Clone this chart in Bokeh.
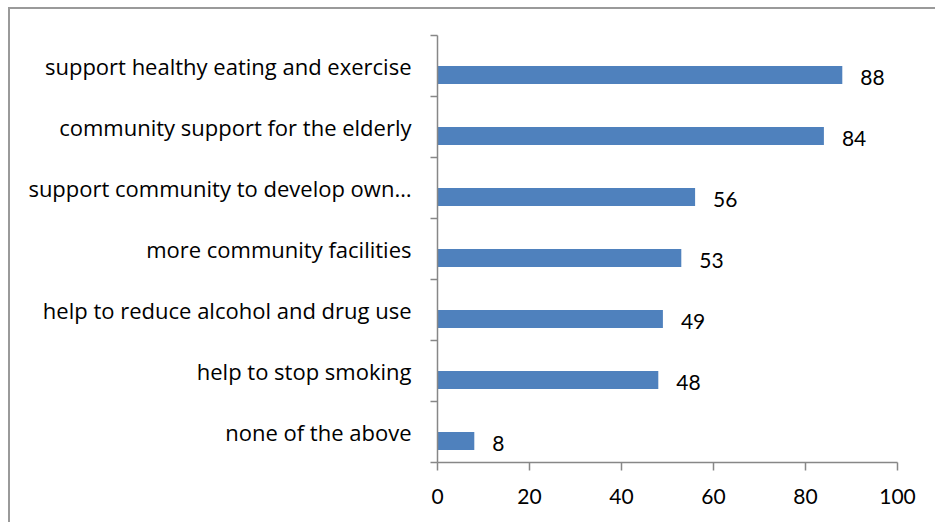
from bokeh.plotting import figure
from bokeh.models import FixedTicker, Range1d, ColumnDataSource
from bokeh.core.properties import value
from bokeh.embed import file_html
from bokeh.resources import INLINE

categories = [
    "support healthy eating and exercise",
    "community support for the elderly",
    "support community to develop own\u2026",
    "more community facilities",
    "help to reduce alcohol and drug use",
    "help to stop smoking",
    "none of the above",
]
values = [88, 84, 56, 53, 49, 48, 8]
x_ticks = [0, 20, 40, 60, 80, 100]

FONT = "Lato"
CAT_FONT = "Open Sans"
BAR_COLOR = "#4F81BD"
AXIS_COLOR = "#878787"

n = len(categories)
# index 0 at top -> highest y
centers = [n - 1 - i + 0.5 for i in range(n)]
bar_h = 0.295
bar_y = [c - bar_h / 2 for c in centers]

src = ColumnDataSource(dict(
    y=bar_y, v=values, lbl=[str(v) for v in values],
))

W, H = 927, 515
p = figure(width=W, height=H, output_backend="svg", toolbar_location=None,
           x_range=Range1d(0, 100), y_range=Range1d(0, n),
           min_border_left=427, min_border_right=40,
           min_border_top=26, min_border_bottom=62)
p.styles = {"margin-left": "8px", "margin-top": "7px",
            "border-top": "2px solid #9a9a9a", "border-left": "2px solid #9a9a9a"}
p.outline_line_color = None
p.xgrid.grid_line_color = None
p.ygrid.grid_line_color = None
p.background_fill_color = "white"
p.border_fill_color = "white"

p.hbar(y="y", right="v", left=0, height=bar_h, source=src,
       fill_color=BAR_COLOR, line_color=None)
p.text(x="v", y="y", text="lbl", source=src, x_offset=18, y_offset=3,
       text_align="left", text_baseline="middle",
       text_font=value(FONT), text_font_size="21px", text_color="black")

xa = p.xaxis[0]
xa.ticker = FixedTicker(ticks=x_ticks, minor_ticks=[])
xa.axis_line_color = AXIS_COLOR
xa.axis_line_width = 1.5
xa.major_tick_line_color = AXIS_COLOR
xa.major_tick_line_width = 1.5
xa.major_tick_out = 8
xa.major_tick_in = 0
xa.minor_tick_line_color = None
xa.major_label_standoff = 18
xa.major_label_text_font = FONT
xa.major_label_text_font_size = "21px"
xa.major_label_text_color = "black"

ya = p.yaxis[0]
ya.ticker = FixedTicker(ticks=centers, minor_ticks=list(range(n + 1)))
ya.major_label_overrides = {c: cat for c, cat in zip(centers, categories)}
ya.axis_line_color = AXIS_COLOR
ya.axis_line_width = 1.5
ya.major_tick_line_color = None
ya.major_tick_out = 0
ya.major_tick_in = 0
ya.minor_tick_line_color = AXIS_COLOR
ya.minor_tick_line_width = 1.5
ya.minor_tick_out = 7
ya.minor_tick_in = 0
ya.major_label_standoff = 19
ya.major_label_text_font = CAT_FONT
ya.major_label_text_font_size = "22px"
ya.major_label_text_color = "black"

open("out.html", "w").write(file_html(p, INLINE))
